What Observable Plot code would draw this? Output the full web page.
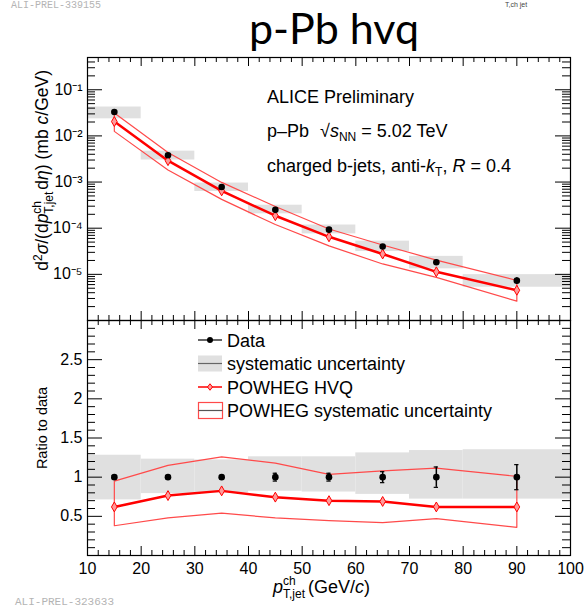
<!DOCTYPE html>
<html><head><meta charset="utf-8">
<script src="https://cdn.jsdelivr.net/npm/d3@7"></script>
<script src="https://cdn.jsdelivr.net/npm/@observablehq/plot@0.6"></script>
<style>
body{margin:0;background:#fff;}
#wrap{position:relative;width:586px;height:608px;overflow:hidden;font-family:"Liberation Sans",Arial,sans-serif;}
#wrap svg{position:absolute;left:0;}
</style></head><body><div id="wrap"></div>
<script>
// ---------- data ----------
const binLo = [10, 20, 30, 40, 50, 60, 70, 80];
const binHi = [20, 30, 40, 50, 60, 70, 80, 100];
const ptX = [15, 25, 35, 45, 55, 65, 75, 90];
const dataY = [0.033, 3.8e-3, 7.8e-4, 2.5e-4, 9.3e-5, 4.0e-5, 1.83e-5, 7.3e-6];
const statRel = [0.02, 0.02, 0.02, 0.05, 0.05, 0.07, 0.13, 0.16];
const sysHi = [1.28, 1.23, 1.22, 1.26, 1.26, 1.31, 1.34, 1.35];
const sysLo = [0.71, 0.79, 0.80, 0.82, 0.81, 0.78, 0.72, 0.72];
const powhegRatio = [0.62, 0.765, 0.825, 0.745, 0.70, 0.69, 0.62, 0.62];
const powhegHi = [0.95, 1.15, 1.26, 1.18, 1.035, 1.08, 1.115, 1.01];
const powhegLo = [0.38, 0.48, 0.54, 0.48, 0.445, 0.42, 0.47, 0.36];

const xTicks = [10, 20, 30, 40, 50, 60, 70, 80, 90, 100];
const xTickLabels = ["10", "20", "30", "40", "50", "60", "70", "80", "90", "100"];
const logTicks = [1e-1, 1e-2, 1e-3, 1e-4, 1e-5];
const logTickLabels = ["10\u207B\u00B9", "10\u207B\u00B2", "10\u207B\u00B3", "10\u207B\u2074", "10\u207B\u2075"];
const ratioTicks = [0.5, 1, 1.5, 2, 2.5];
const ratioTickLabels = ["0.5", "1", "1.5", "2", "2.5"];

// ---------- derived tables ----------
const rows = ptX.map((x, i) => ({
  x, lo: binLo[i], hi: binHi[i], y: dataY[i], s: statRel[i],
  sh: sysHi[i], sl: sysLo[i], r: powhegRatio[i], rh: powhegHi[i], rl: powhegLo[i]
}));
const bandRatio = [
  ...rows.map(d => ({x: d.x, v: d.rh})),
  ...rows.slice().reverse().map(d => ({x: d.x, v: d.rl})),
  {x: rows[0].x, v: rows[0].rh}
];
const bandAbs = bandRatio.map((p) => ({x: p.x, v: p.v * rows.find(d => d.x === p.x).y}));
const xMinor = d3.range(12, 100, 2).filter(v => v % 10 !== 0);
const logMinor = [];
for (let e = -6; e <= -1; e++) for (let k = 2; k <= 9; k++) { const v = k * 10 ** e; if (v < 0.5) logMinor.push(v); }
const logMajorAll = [1e-6, 1e-5, 1e-4, 1e-3, 1e-2, 1e-1];
const ratioMinor = d3.range(1, 30).map(v => v / 10).filter(v => Math.abs(v * 2 - Math.round(v * 2)) > 1e-6);

const W = 586, ML = 87, MR = 16;
const innerW = W - ML - MR;
const font = "'Liberation Sans', Arial, sans-serif";
const RED = "#ff0000", BANDRED = "#ff4a4a", GRAY = "#e0e0e0";

function frameTicks(innerH, yMajor, yMinor, yMaj = 15, yMin = 8, xMaj = 9, xMin = 5) {
  return [
    Plot.tickX(xTicks, {x: d => d, insetTop: innerH - xMaj, stroke: "black"}),
    Plot.tickX(xTicks, {x: d => d, insetBottom: innerH - xMaj, stroke: "black"}),
    Plot.tickX(xMinor, {x: d => d, insetTop: innerH - xMin, stroke: "black"}),
    Plot.tickX(xMinor, {x: d => d, insetBottom: innerH - xMin, stroke: "black"}),
    Plot.tickY(yMajor, {y: d => d, insetRight: innerW - yMaj, stroke: "black"}),
    Plot.tickY(yMajor, {y: d => d, insetLeft: innerW - yMaj, stroke: "black"}),
    Plot.tickY(yMinor, {y: d => d, insetRight: innerW - yMin, stroke: "black"}),
    Plot.tickY(yMinor, {y: d => d, insetLeft: innerW - yMin, stroke: "black"}),
    Plot.frame({stroke: "black", strokeWidth: 1.2})
  ];
}

// ---------- top panel ----------
const H1 = 321, MT1 = 57, MB1 = 1;
const topPlot = Plot.plot({
  width: W, height: H1, marginLeft: ML, marginRight: MR, marginTop: MT1, marginBottom: MB1,
  x: {domain: [10, 100], axis: null},
  y: {type: "log", domain: [1e-6, 0.5], axis: null},
  style: {fontFamily: font, fontSize: "16px", background: "transparent", overflow: "visible"},
  marks: [
    Plot.rect(rows, {x1: "lo", x2: "hi", y1: d => d.y * d.sl, y2: d => d.y * d.sh, fill: GRAY}),
    Plot.line(bandAbs, {x: "x", y: "v", stroke: BANDRED, strokeWidth: 1.2}),
    Plot.line(rows, {x: "x", y: d => d.y * d.r, stroke: RED, strokeWidth: 2.5}),
    Plot.dot(rows, {x: "x", y: d => d.y * d.r, symbol: "diamond", r: 3, stroke: RED, fill: "#ff9a9a", strokeWidth: 1}),
    Plot.ruleX(rows, {x: "x", y1: d => d.y * (1 - d.s), y2: d => d.y * (1 + d.s), stroke: "black", strokeWidth: 1.5}),
    Plot.dot(rows, {x: "x", y: "y", r: 3.3, fill: "black"}),
    ...frameTicks(H1 - MT1 - MB1, logMajorAll, logMinor),
    Plot.text(logTicks, {y: d => d, text: (d, i) => logTickLabels[i], frameAnchor: "left", textAnchor: "end", dx: -5, fontSize: 16})
  ]
});
topPlot.style.top = "0px";

// ---------- ratio panel ----------
const H2 = 290, MT2 = 1, MB2 = 54;
const botPlot = Plot.plot({
  width: W, height: H2, marginLeft: ML, marginRight: MR, marginTop: MT2, marginBottom: MB2,
  x: {domain: [10, 100], axis: null},
  y: {domain: [0, 3], axis: null},
  style: {fontFamily: font, fontSize: "16px", background: "transparent", overflow: "visible"},
  marks: [
    Plot.rect(rows, {x1: "lo", x2: "hi", y1: "sl", y2: "sh", fill: GRAY}),
    Plot.line(bandRatio, {x: "x", y: "v", stroke: BANDRED, strokeWidth: 1.2}),
    Plot.line(rows, {x: "x", y: "r", stroke: RED, strokeWidth: 2.5}),
    Plot.dot(rows, {x: "x", y: "r", symbol: "diamond", r: 3, stroke: RED, fill: "#ff9a9a", strokeWidth: 1}),
    Plot.ruleX(rows, {x: "x", y1: d => 1 - d.s, y2: d => 1 + d.s, stroke: "black", strokeWidth: 1.5}),
    Plot.ruleY(rows, {y: d => 1 - d.s, x1: d => d.x - 0.4, x2: d => d.x + 0.4, stroke: "black", strokeWidth: 1.2}),
    Plot.ruleY(rows, {y: d => 1 + d.s, x1: d => d.x - 0.4, x2: d => d.x + 0.4, stroke: "black", strokeWidth: 1.2}),
    Plot.dot(rows, {x: "x", y: () => 1, r: 3.3, fill: "black"}),
    ...frameTicks(H2 - MT2 - MB2, [0, ...ratioTicks, 3], ratioMinor),
    Plot.text(ratioTicks, {y: d => d, text: (d, i) => ratioTickLabels[i], frameAnchor: "left", textAnchor: "end", dx: -5, fontSize: 16}),
    Plot.text(xTicks, {x: d => d, text: (d, i) => xTickLabels[i], frameAnchor: "bottom", lineAnchor: "top", dy: 7, fontSize: 16})
  ]
});
botPlot.style.top = "319px";

const wrap = document.getElementById("wrap");
wrap.appendChild(topPlot);
wrap.appendChild(botPlot);

// ---------- text & legend overlay ----------
const ns = "http://www.w3.org/2000/svg";
const ov = document.createElementNS(ns, "svg");
ov.setAttribute("width", W); ov.setAttribute("height", 608);
ov.style.top = "0px"; ov.style.pointerEvents = "none";
ov.setAttribute("font-family", "Liberation Sans, Arial, sans-serif");
const diamond = (cx, cy, r) => `M${cx},${cy - r * 1.3}L${cx + r},${cy}L${cx},${cy + r * 1.3}L${cx - r},${cy}Z`;
ov.innerHTML = `
<text x="11" y="8" font-family="Liberation Mono, monospace" font-size="10" fill="#b4b4b4">ALI-PREL-339155</text>
<text x="505" y="7" font-size="7" fill="#444">T,ch jet</text>
<text x="334" y="44" text-anchor="middle" font-family="Lato, 'Open Sans', sans-serif" font-size="43" fill="#000">p-Pb hvq</text>
<text x="15" y="605" font-family="Liberation Mono, monospace" font-size="11" fill="#b4b4b4">ALI-PREL-323633</text>

<text x="267" y="102.7" font-size="18">ALICE Preliminary</text>
<text x="267" y="136.7" font-size="18">p–Pb</text>
<text x="320" y="136.7" font-size="18">√<tspan font-style="italic">s</tspan><tspan font-size="12" dy="4">NN</tspan><tspan dy="-4"> = 5.02 TeV</tspan></text>
<text x="267" y="171.7" font-size="18">charged b-jets, anti-<tspan font-style="italic">k</tspan><tspan font-size="12" dy="4">T</tspan><tspan dy="-4">, </tspan><tspan font-style="italic">R</tspan> = 0.4</text>

<text transform="translate(48,70) rotate(-90)" text-anchor="end" font-size="17.5">d<tspan dy="-6" font-size="12">2</tspan><tspan dy="6" font-style="italic">σ</tspan>/(d<tspan font-style="italic">p</tspan><tspan dy="-7" font-size="12">ch</tspan><tspan dx="-12.7" dy="12" font-size="12">T,jet</tspan><tspan dy="-5" dx="2">d</tspan><tspan font-style="italic">η</tspan>) (mb <tspan font-style="italic">c</tspan>/GeV)</text>
<text transform="translate(47,428) rotate(-90)" text-anchor="middle" font-size="14.5">Ratio to data</text>

<text x="273" y="593" font-size="18"><tspan font-style="italic">p</tspan><tspan dy="-8" font-size="12">ch</tspan><tspan dx="-12.7" dy="13" font-size="12">T,jet</tspan><tspan dy="-5" dx="3">(GeV/</tspan><tspan font-style="italic">c</tspan>)</text>

<line x1="198" x2="222" y1="340" y2="340" stroke="black" stroke-width="1.2"/>
<circle cx="210" cy="340" r="3" fill="black"/>
<text x="227" y="346.5" font-size="18">Data</text>
<rect x="198" y="355.5" width="24" height="16" fill="${GRAY}"/>
<line x1="198" x2="222" y1="363.5" y2="363.5" stroke="#666" stroke-width="1.2"/>
<text x="227" y="370" font-size="18">systematic uncertainty</text>
<line x1="198" x2="222" y1="387" y2="387" stroke="${RED}" stroke-width="1.5"/>
<path d="${diamond(210, 387, 2.5)}" fill="#ff9a9a" stroke="${RED}" stroke-width="1"/>
<text x="227" y="393.5" font-size="18">POWHEG HVQ</text>
<rect x="198.5" y="402.5" width="24" height="16" fill="none" stroke="${BANDRED}" stroke-width="1.2"/>
<line x1="198.5" x2="222.5" y1="410.5" y2="410.5" stroke="#555" stroke-width="1.2"/>
<text x="227" y="417" font-size="18">POWHEG systematic uncertainty</text>
`;
wrap.appendChild(ov);
</script>
</body></html>
